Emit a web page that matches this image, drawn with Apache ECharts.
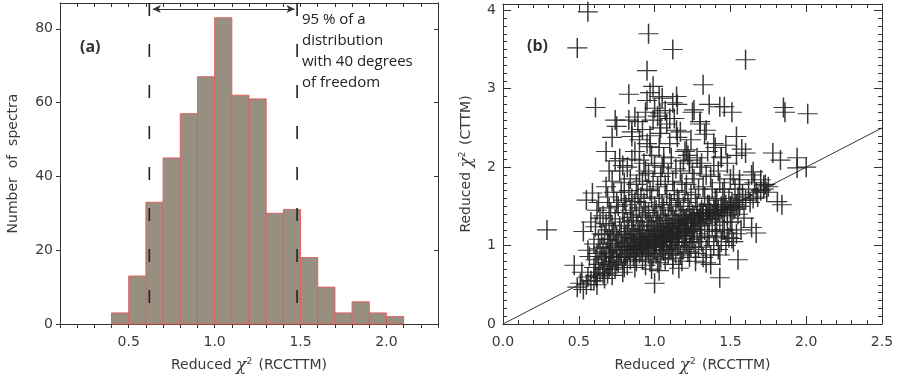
<!DOCTYPE html>
<html>
<head>
<meta charset="utf-8">
<script src="https://cdn.jsdelivr.net/npm/echarts@6/dist/echarts.min.js"></script>
<style>
  html, body { margin: 0; padding: 0; background: #fff; }
  #chart { width: 899px; height: 379px; }
</style>
</head>
<body>
<div id="chart"></div>
<script>
// (a) histogram
const binStarts = [0.4, 0.5, 0.6, 0.7, 0.8, 0.9, 1.0, 1.1, 1.2, 1.3, 1.4, 1.5, 1.6, 1.7, 1.8, 1.9, 2.0];
const binWidth = 0.1;
const counts = [3, 13, 33, 45, 57, 67, 83, 62, 61, 30, 31, 18, 10, 3, 6, 3, 2];
const dashedLines = [0.62, 1.48];
const arrowSpan = [0.64, 1.465];
const arrowLevel = 85.4;
const noteLines = ['95 % of a', 'distribution', 'with 40 degrees', 'of freedom'];

// (b) scatter: reduced chi2 RCCTTM vs CTTM
const scatterPoints = [
  [0.56,3.98],[0.49,3.52],[0.96,3.7],[1.12,3.5],[1.6,3.37],[0.95,3.23],[1.32,3.05],[0.61,2.76],[0.83,2.93],[0.99,3.03],
  [1.03,2.9],[1.85,2.76],[1.86,2.7],[2.01,2.68],[0.29,1.2],[1.43,0.59],[1.0,0.52],[1.55,0.82],[1.16,0.71],[1.64,1.23],
  [1.67,1.16],[1.48,1.16],[1.51,1.09],[1.84,1.52],[1.81,1.56],[1.94,2.12],[1.94,1.99],[2.0,2.0],[1.78,2.18],[1.83,2.09],
  [1.36,2.8],[1.46,2.77],[1.51,2.7],[1.43,2.77],[1.26,2.73],[1.3,2.58],[1.34,2.47],[1.39,2.3],[1.54,2.39],[1.575,2.23],
  [1.44,2.13],[1.65,1.94],[1.7,1.84],[1.56,1.84],[1.72,1.77],[1.12,2.82],[1.145,2.9],[0.74,2.6],[0.85,2.39],[0.87,2.64],
  [1.035,2.69],[1.035,2.43],[1.145,2.47],[0.97,2.26],[1.06,2.13],[1.21,2.22],[1.23,2.09],[0.9,2.09],[0.77,2.11],
  [0.49,0.47],[0.51,0.52],[0.53,0.44],[0.47,0.75],[0.52,0.66],[0.55,0.5],[0.56,0.6],[0.57,0.86],[0.56,0.94],[0.55,1.58],
  [0.59,1.67],[0.58,1.3],[0.53,1.18],
  [0.6,0.55],[0.62,0.5],[0.61,0.62],[0.64,0.66],[0.6,0.72],[0.63,0.76],[0.61,0.82],[0.65,0.86],[0.62,0.9],[0.64,0.96],
  [0.6,1.02],[0.63,1.08],[0.65,1.15],[0.61,1.24],[0.64,1.35],[0.62,1.45],[0.63,1.55],
  [0.67,0.58],[0.69,0.64],[0.66,0.7],[0.7,0.74],[0.68,0.78],[0.67,0.84],[0.7,0.88],[0.68,0.92],[0.66,0.98],[0.7,1.02],
  [0.69,1.08],[0.67,1.14],[0.7,1.2],[0.68,1.28],[0.66,1.38],[0.7,1.48],[0.69,1.62],[0.68,1.75],[0.7,1.95],[0.68,2.2],
  [0.72,0.62],[0.74,0.7],[0.71,0.76],[0.75,0.8],[0.73,0.85],[0.71,0.9],[0.75,0.94],[0.72,0.98],[0.74,1.03],[0.71,1.08],
  [0.75,1.12],[0.73,1.18],[0.72,1.26],[0.74,1.34],[0.71,1.42],[0.75,1.55],[0.73,1.68],[0.72,1.82],[0.74,2.08],[0.72,2.38],
  [0.75,2.52],
  [0.76,0.78],[0.78,0.86],[0.77,0.93],[0.79,1.0],[0.76,1.06],[0.8,1.1],[0.78,1.16],[0.77,1.25],[0.8,1.3],[0.79,1.42],
  [0.76,1.5],[0.8,1.58],[0.78,1.68],[0.8,1.8],[0.77,1.95],[0.79,2.02],[0.8,0.72],[0.79,0.66],
  [0.82,0.75],[0.84,0.82],[0.81,0.88],[0.83,0.95],[0.85,0.99],[0.82,1.04],[0.84,1.09],[0.81,1.14],[0.85,1.18],[0.83,1.22],
  [0.82,1.3],[0.85,1.36],[0.84,1.45],[0.81,1.52],[0.85,1.6],[0.83,1.7],[0.84,1.85],[0.82,2.0],[0.85,2.1],[0.83,2.6],[0.85,2.45],
  [0.87,0.72],[0.88,0.8],[0.86,0.86],[0.9,0.9],[0.87,0.94],[0.89,0.98],[0.86,1.02],[0.9,1.06],[0.88,1.1],[0.87,1.15],
  [0.9,1.2],[0.89,1.26],[0.86,1.32],[0.88,1.4],[0.9,1.48],[0.87,1.56],[0.89,1.65],[0.88,1.78],[0.9,1.9],[0.87,2.2],[0.89,2.58],[0.9,2.35],
  [0.92,0.82],[0.94,0.88],[0.91,0.93],[0.95,0.96],[0.93,1.0],[0.91,1.04],[0.94,1.08],[0.92,1.12],[0.95,1.15],[0.93,1.2],
  [0.91,1.25],[0.95,1.3],[0.92,1.38],[0.94,1.45],[0.93,1.55],[0.91,1.62],[0.95,1.72],[0.92,1.82],[0.94,1.95],[0.93,2.05],
  [0.95,2.3],[0.92,2.48],[0.94,2.7],[0.95,2.85],[0.94,0.75],
  [0.97,0.8],[0.99,0.86],[0.96,0.9],[1.0,0.94],[0.98,0.98],[0.96,1.02],[1.0,1.05],[0.97,1.08],[0.99,1.12],[0.96,1.16],
  [1.0,1.2],[0.98,1.24],[0.97,1.3],[0.99,1.36],[0.96,1.42],[1.0,1.5],[0.98,1.6],[0.97,1.7],[0.99,1.82],[0.96,1.92],
  [1.0,2.02],[0.98,2.15],[0.97,2.4],[0.99,2.6],[1.0,2.75],[0.97,2.95],[0.98,0.7],
  [1.02,0.78],[1.04,0.84],[1.01,0.9],[1.05,0.95],[1.03,0.99],[1.01,1.03],[1.05,1.07],[1.02,1.1],[1.04,1.14],[1.01,1.18],
  [1.05,1.22],[1.03,1.26],[1.02,1.32],[1.04,1.38],[1.01,1.45],[1.05,1.52],[1.03,1.62],[1.02,1.75],[1.04,1.88],[1.05,2.0],
  [1.03,2.25],[1.04,2.5],[1.02,2.65],[1.05,2.88],[1.03,0.68],
  [1.07,0.82],[1.09,0.88],[1.06,0.93],[1.1,0.97],[1.08,1.01],[1.06,1.05],[1.1,1.09],[1.07,1.12],[1.09,1.16],[1.06,1.2],
  [1.1,1.24],[1.08,1.28],[1.07,1.34],[1.09,1.4],[1.06,1.48],[1.1,1.55],[1.08,1.65],[1.07,1.78],[1.09,1.92],[1.06,2.05],
  [1.1,2.3],[1.08,2.55],[1.07,2.72],[1.1,2.62],
  [1.12,0.84],[1.14,0.9],[1.11,0.95],[1.15,1.0],[1.13,1.04],[1.11,1.08],[1.15,1.12],[1.12,1.16],[1.14,1.2],[1.11,1.24],
  [1.15,1.28],[1.13,1.32],[1.12,1.38],[1.14,1.45],[1.11,1.52],[1.15,1.6],[1.13,1.7],[1.12,1.82],[1.14,1.98],[1.11,2.12],
  [1.15,2.38],[1.13,2.62],[1.15,2.8],[1.12,0.76],
  [1.17,0.88],[1.19,0.95],[1.16,1.0],[1.2,1.05],[1.18,1.09],[1.16,1.13],[1.2,1.17],[1.17,1.21],[1.19,1.25],[1.16,1.29],
  [1.2,1.33],[1.18,1.38],[1.17,1.44],[1.19,1.5],[1.16,1.58],[1.2,1.68],[1.18,1.8],[1.17,1.95],[1.19,2.08],[1.2,2.2],
  [1.17,2.45],[1.18,0.8],
  [1.22,0.92],[1.24,0.98],[1.21,1.04],[1.25,1.08],[1.23,1.12],[1.21,1.17],[1.25,1.21],[1.22,1.25],[1.24,1.3],[1.21,1.35],
  [1.25,1.4],[1.23,1.46],[1.22,1.55],[1.24,1.65],[1.21,1.78],[1.25,1.92],[1.23,2.05],[1.22,2.15],[1.24,2.35],[1.25,2.7],[1.23,0.85],
  [1.27,0.9],[1.29,0.98],[1.26,1.05],[1.3,1.1],[1.28,1.15],[1.26,1.2],[1.3,1.25],[1.27,1.3],[1.29,1.34],[1.26,1.38],
  [1.3,1.42],[1.28,1.5],[1.27,1.6],[1.29,1.72],[1.26,1.85],[1.3,2.0],[1.28,2.12],[1.3,2.55],[1.27,0.8],
  [1.32,0.85],[1.34,0.95],[1.31,1.05],[1.35,1.12],[1.33,1.2],[1.31,1.28],[1.35,1.33],[1.32,1.37],[1.34,1.41],[1.31,1.46],
  [1.35,1.52],[1.33,1.62],[1.32,1.75],[1.34,1.9],[1.31,2.05],[1.35,2.2],[1.33,2.42],[1.34,0.78],
  [1.37,0.88],[1.39,1.0],[1.36,1.1],[1.4,1.18],[1.38,1.26],[1.36,1.34],[1.4,1.38],[1.37,1.42],[1.39,1.46],[1.36,1.52],
  [1.4,1.6],[1.38,1.72],[1.37,1.88],[1.39,2.02],[1.4,2.25],[1.37,0.76],
  [1.42,0.95],[1.44,1.05],[1.41,1.12],[1.45,1.2],[1.43,1.3],[1.41,1.38],[1.45,1.42],[1.42,1.46],[1.44,1.5],[1.41,1.58],
  [1.45,1.68],[1.43,1.8],[1.42,1.95],[1.44,2.12],[1.43,0.88],
  [1.47,1.0],[1.49,1.1],[1.46,1.2],[1.5,1.3],[1.48,1.38],[1.46,1.44],[1.5,1.48],[1.47,1.52],[1.49,1.6],[1.46,1.72],
  [1.5,1.85],[1.48,2.05],[1.47,2.28],
  [1.52,1.05],[1.54,1.15],[1.51,1.3],[1.55,1.4],[1.53,1.48],[1.51,1.55],[1.55,1.62],[1.53,1.72],[1.52,1.9],[1.54,2.15],
  [1.57,1.2],[1.59,1.35],[1.56,1.5],[1.6,1.58],[1.58,1.65],[1.56,1.78],[1.6,2.18],
  [1.63,1.55],[1.65,1.6],[1.67,1.68],[1.62,1.72],[1.68,1.62],[1.7,1.7],[1.66,1.8],[1.64,1.9],
  [1.72,1.72],[1.74,1.68],[1.73,1.78],[1.75,1.75],
  // densest part of the band
  [0.78,0.95],[0.82,0.98],[0.86,1.08],[0.88,0.9],[0.9,1.12],[0.92,0.96],[0.94,1.02],[0.96,1.06],[0.98,1.1],[1.0,1.0],
  [1.02,1.15],[1.04,1.05],[1.06,1.12],[1.08,1.18],[1.1,1.14],[1.12,1.22],[1.14,1.1],[1.16,1.26],[1.18,1.22],[1.2,1.3],
  [1.22,1.28],[1.24,1.35],[1.26,1.32],[1.28,1.38],[1.3,1.35],[1.32,1.42],[1.34,1.38],[1.36,1.44],[1.38,1.4],[1.4,1.45],
  [1.42,1.42],[1.44,1.46],[1.46,1.48],[1.48,1.45],[1.5,1.5],[1.52,1.46],[1.54,1.52],[1.56,1.55],[1.58,1.58],[0.72,0.8],
  [0.7,0.7],[0.66,0.64],[0.62,0.6],[0.58,0.55],[0.8,0.85],[0.84,0.9],[0.88,0.96],[0.92,1.0],[0.96,0.98],[1.0,1.1],
  [1.04,1.12],[1.08,1.08],[1.12,1.05],[1.16,1.18],[1.2,1.12],[1.24,1.18]
];
const refLine = [[0, 0], [2.5, 2.5]];

const labelFont = 'DejaVu Sans';
const textColor = '#3a3a3a';
const frameColor = '#333';

// thin plus sign made of two filled bars
const crossPath = 'path://M-10,-0.55L10,-0.55L10,0.55L-10,0.55Z M-0.75,-10L0.75,-10L0.75,10L-0.75,10Z';

function axisBase(extra) {
    return Object.assign({
        type: 'value',
        axisLine: { show: true, onZero: false, lineStyle: { color: frameColor, width: 1 } },
        splitLine: { show: false },
        axisLabel: { color: textColor, fontFamily: labelFont, fontSize: 14 },
        nameTextStyle: { color: textColor, fontFamily: labelFont, fontSize: 14 },
    }, extra);
}

const chiName = (suffix) => '{t|Reduced }{c|χ}{s|2}{t| (' + suffix + ')}';
const chiRich = {
    t: { color: textColor, fontFamily: labelFont, fontSize: 14 },
    c: { color: textColor, fontFamily: 'DejaVu Serif', fontStyle: 'italic', fontSize: 17 },
    s: { color: textColor, fontFamily: labelFont, fontSize: 9, verticalAlign: 'top', padding: [0, 2, 8, 0] },
};

const chart = echarts.init(document.getElementById('chart'), null, { renderer: 'canvas' });

const option = {
    animation: false,
    backgroundColor: '#fff',
    grid: [
        { left: 60, top: 3, width: 378, height: 321 },
        { left: 503, top: 4, width: 379, height: 320 },
    ],
    xAxis: [
        axisBase({
            gridIndex: 0, min: 0.1, max: 2.3, interval: 0.1, position: 'bottom',
            axisTick: { show: true, inside: false, length: 4, lineStyle: { color: frameColor } },
            axisLabel: {
                color: textColor, fontFamily: labelFont, fontSize: 14, margin: 11,
                showMinLabel: true, showMaxLabel: true,
                formatter: (v) => {
                    const r = Math.round(v * 10);
                    return r % 5 === 0 ? (r / 10).toFixed(1) : '';
                },
            },
            name: chiName('RCCTTM'), nameLocation: 'middle', nameGap: 33,
            nameTextStyle: { rich: chiRich },
        }),
        axisBase({
            gridIndex: 0, min: 0.1, max: 2.3, interval: 0.1, position: 'top',
            axisTick: { show: true, inside: true, length: 4, lineStyle: { color: frameColor } },
            axisLabel: { show: false },
        }),
        axisBase({
            gridIndex: 1, min: 0, max: 2.5, interval: 0.5, position: 'bottom',
            axisTick: { show: true, inside: true, length: 8, lineStyle: { color: frameColor } },
            minorTick: { show: true, splitNumber: 5, length: 4, lineStyle: { color: frameColor } },
            axisLabel: { color: textColor, fontFamily: labelFont, fontSize: 14, margin: 11, formatter: (v) => v.toFixed(1) },
            name: chiName('RCCTTM'), nameLocation: 'middle', nameGap: 33,
            nameTextStyle: { rich: chiRich },
        }),
        axisBase({
            gridIndex: 1, min: 0, max: 2.5, interval: 0.5, position: 'top',
            axisTick: { show: true, inside: true, length: 8, lineStyle: { color: frameColor } },
            minorTick: { show: true, splitNumber: 5, length: 4, lineStyle: { color: frameColor } },
            axisLabel: { show: false },
        }),
    ],
    yAxis: [
        axisBase({
            gridIndex: 0, min: 0, max: 87, interval: 20, position: 'left',
            axisTick: { show: true, inside: false, length: 4, lineStyle: { color: frameColor } },
            axisLabel: { color: textColor, fontFamily: labelFont, fontSize: 14, margin: 7, showMaxLabel: false },
            name: 'Number  of  spectra', nameLocation: 'middle', nameGap: 40, nameRotate: 90,
            nameTextStyle: { color: textColor, fontFamily: labelFont, fontSize: 14 },
        }),
        axisBase({
            gridIndex: 0, min: 0, max: 87, interval: 20, position: 'right',
            axisTick: { show: true, inside: true, length: 4, lineStyle: { color: frameColor } },
            axisLabel: { show: false },
        }),
        axisBase({
            gridIndex: 1, min: 0, max: 4.08, interval: 1, position: 'left',
            axisTick: { show: true, inside: true, length: 8, lineStyle: { color: frameColor } },
            minorTick: { show: true, splitNumber: 10, length: 4, lineStyle: { color: frameColor } },
            axisLabel: { color: textColor, fontFamily: labelFont, fontSize: 14, margin: 7, showMaxLabel: false },
            name: chiName('CTTM'), nameLocation: 'middle', nameGap: 28, nameRotate: 90,
            nameTextStyle: { rich: chiRich },
        }),
        axisBase({
            gridIndex: 1, min: 0, max: 4.08, interval: 1, position: 'right',
            axisTick: { show: true, inside: true, length: 8, lineStyle: { color: frameColor } },
            minorTick: { show: true, splitNumber: 10, length: 4, lineStyle: { color: frameColor } },
            axisLabel: { show: false },
        }),
    ],
    graphic: [
        { type: 'text', left: 80, top: 39, style: { text: '(a)', fontFamily: 'Open Sans', fontWeight: 'bold', fontSize: 16, fill: '#333' } },
        { type: 'text', left: 527, top: 38, style: { text: '(b)', fontFamily: 'Open Sans', fontWeight: 'bold', fontSize: 16, fill: '#333' } },
        {
            type: 'text', left: 302, top: 9,
            style: { text: noteLines.join('\n'), fontFamily: 'Open Sans', fontSize: 15, lineHeight: 21, fill: '#222' },
        },
    ],
    series: [
        {
            type: 'custom',
            xAxisIndex: 0, yAxisIndex: 0,
            data: binStarts.map((s, i) => [s, s + binWidth, counts[i]]),
            encode: { x: [0, 1], y: 2 },
            renderItem: (params, api) => {
                const p0 = api.coord([api.value(0), api.value(2)]);
                const p1 = api.coord([api.value(1), 0]);
                return {
                    type: 'rect',
                    shape: { x: p0[0], y: p0[1], width: p1[0] - p0[0], height: p1[1] - p0[1] },
                    style: { fill: '#979081', stroke: '#e06262', lineWidth: 1 },
                };
            },
        },
        ...dashedLines.map((x) => ({
            type: 'line',
            xAxisIndex: 0, yAxisIndex: 0,
            data: [[x, 87], [x, 0]],
            symbol: 'none',
            lineStyle: { color: '#222', width: 1.6, type: [13, 28] },
            z: 3,
        })),
        {
            type: 'line',
            xAxisIndex: 0, yAxisIndex: 0,
            data: [],
            markLine: {
                silent: true,
                symbol: ['arrow', 'arrow'],
                symbolSize: [6, 8],
                label: { show: false },
                lineStyle: { color: '#333', width: 1.2, type: 'solid' },
                data: [[{ coord: [arrowSpan[0], arrowLevel] }, { coord: [arrowSpan[1], arrowLevel] }]],
            },
        },
        {
            type: 'line',
            xAxisIndex: 2, yAxisIndex: 2,
            data: refLine,
            symbol: 'none',
            lineStyle: { color: '#333', width: 1 },
            z: 1,
        },
        {
            type: 'scatter',
            xAxisIndex: 2, yAxisIndex: 2,
            data: scatterPoints,
            symbol: crossPath,
            symbolSize: 20,
            itemStyle: { color: '#222', opacity: 0.9 },
            z: 2,
        },
    ],
};

chart.setOption(option);
</script>
</body>
</html>
